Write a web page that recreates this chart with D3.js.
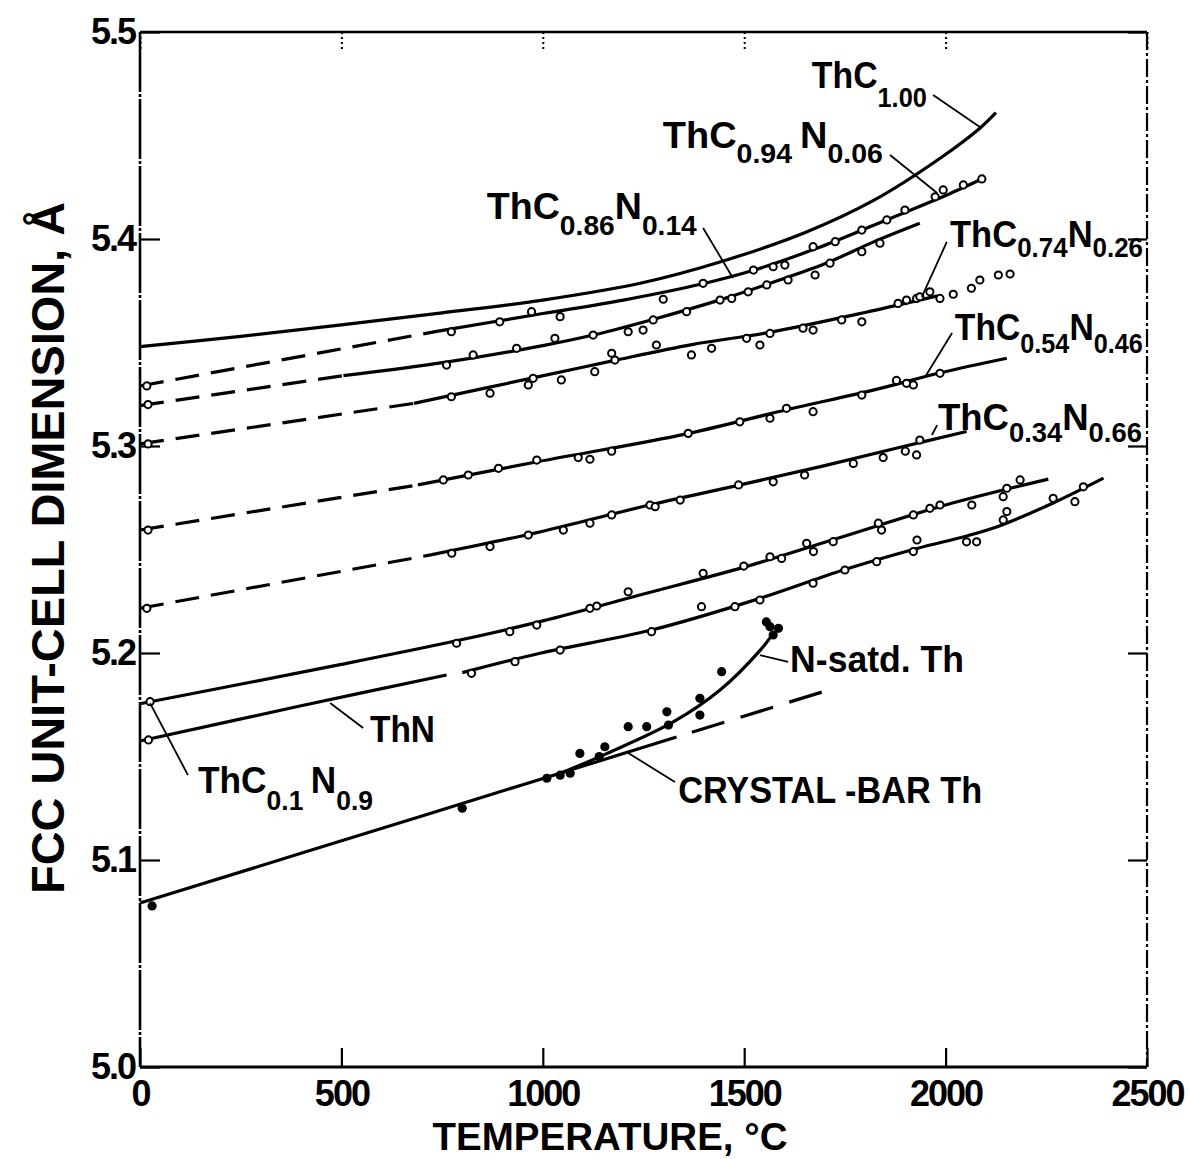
<!DOCTYPE html>
<html><head><meta charset="utf-8">
<script src="https://cdn.jsdelivr.net/npm/d3@7"></script>
<style>
html,body{margin:0;padding:0;background:#fff;}
svg{display:block;background:#fff;}
text{font-family:'Liberation Sans',Arial,sans-serif;font-weight:bold;fill:#000;}
</style></head><body>
<svg id="chart" width="1190" height="1159"></svg>
<script>
// ---------- axis ticks ----------
const X_TICKS = [0, 500, 1000, 1500, 2000, 2500];
const Y_TICKS = [5.0, 5.1, 5.2, 5.3, 5.4, 5.5];
const X_TITLE = "TEMPERATURE, °C";
const Y_TITLE = "FCC UNIT-CELL DIMENSION, Å";

// ---------- fitted curves [T (°C), a (Å)] ----------
const thc100Solid = [[0,5.348],[250,5.353],[500,5.3585],[750,5.3643],[1000,5.3705],[1250,5.379],[1450,5.3895],[1650,5.403],[1820,5.4185],[1990,5.4395],[2085,5.4535],[2125,5.461]];

const thc094Dashed = [[0,5.329],[740,5.3555]];
const thc094Solid = [[740,5.3555],[1000,5.364],[1200,5.3705],[1400,5.3785],[1525,5.385],[1680,5.3955],[1820,5.4065],[1920,5.4145],[2000,5.421],[2090,5.429]];
const thc094Pts = [[17,5.329],[773,5.3552],[893,5.360],[972,5.3649],[1043,5.3625],[1299,5.3709],[1398,5.3786],[1523,5.385],[1572,5.3866],[1601,5.3874],[1671,5.3963],[1726,5.3987],[1792,5.4043],[1854,5.4092],[1899,5.414],[1974,5.4204],[1994,5.4237],[2044,5.4261],[2090,5.429]];

const thc086Dashed = [[0,5.3195],[505,5.334]];
const thc086Solid = [[505,5.334],[760,5.3405],[1000,5.3485],[1125,5.3536],[1280,5.3615],[1450,5.3712],[1570,5.379],[1700,5.388],[1820,5.3985],[1936,5.4076]];
const thc086Pts = [[20,5.320],[761,5.3391],[827,5.344],[935,5.3472],[1030,5.352],[1125,5.3536],[1212,5.3552],[1249,5.356],[1274,5.3609],[1357,5.3649],[1440,5.3705],[1469,5.3713],[1510,5.3745],[1556,5.3778],[1609,5.3802],[1676,5.3826],[1713,5.3883],[1792,5.3939],[1837,5.398]];

const thc074Dashed = [[0,5.301],[680,5.3206]];
const thc074Solid = [[680,5.3206],[990,5.3335],[1170,5.341],[1370,5.349],[1560,5.3548],[1800,5.3645],[1980,5.3725]];
const thc074Pts = [[20,5.301],[773,5.3238],[869,5.3255],[964,5.3295],[976,5.3327],[1046,5.3319],[1129,5.3359],[1171,5.3448],[1179,5.3415],[1282,5.3488],[1369,5.344],[1419,5.3472],[1506,5.352],[1539,5.3488],[1564,5.3544],[1646,5.3569],[1671,5.356],[1742,5.3609],[1792,5.360],[1882,5.3689],[1903,5.3705],[1928,5.3713],[1936,5.3721],[1961,5.3745],[1986,5.3713],[2019,5.3733],[2064,5.3762],[2085,5.3802],[2131,5.3826],[2160,5.3831]];

const thc054Dashed = [[0,5.2594],[690,5.2812]];
const thc054Solid = [[690,5.2812],[990,5.2925],[1360,5.306],[1605,5.3175],[1820,5.327],[1990,5.3355],[2152,5.3424]];
const thc054Pts = [[20,5.2594],[753,5.2836],[815,5.286],[890,5.2892],[985,5.2932],[1088,5.2944],[1117,5.2936],[1171,5.2975],[1361,5.3061],[1489,5.3117],[1564,5.3134],[1605,5.3182],[1671,5.3166],[1792,5.3246],[1878,5.3317],[1903,5.3303],[1920,5.3295],[1986,5.3351]];

const thc034Dashed = [[0,5.2216],[725,5.2475]];
const thc034Solid = [[725,5.2475],[995,5.2586],[1265,5.2715],[1490,5.2812],[1700,5.2905],[1890,5.2995],[2052,5.307]];
const thc034Pts = [[17,5.2216],[774,5.2482],[869,5.2514],[964,5.257],[1051,5.2594],[1117,5.2627],[1171,5.2667],[1266,5.2715],[1279,5.2707],[1341,5.2739],[1486,5.2812],[1572,5.2827],[1650,5.286],[1771,5.2916],[1845,5.2944],[1900,5.2975],[1928,5.2957],[1936,5.3029]];

const thc01Solid = [[0,5.1755],[500,5.1945],[800,5.2065],[1000,5.2155],[1250,5.2285],[1500,5.2415],[1750,5.2565],[2000,5.2715],[2255,5.284]];
const thc01Pts = [[25,5.1765],[786,5.2047],[918,5.2103],[985,5.2135],[1117,5.2216],[1134,5.2227],[1212,5.2296],[1398,5.2385],[1499,5.242],[1564,5.2465],[1593,5.2457],[1655,5.253],[1672,5.249],[1721,5.2538],[1833,5.2627],[1841,5.2594],[1920,5.2667],[1961,5.2699],[1986,5.2715],[2065,5.2715],[2143,5.2755],[2152,5.2796],[2185,5.2836]];

const thnSolidA = [[0,5.1575],[400,5.1745],[761,5.1894]];
const thnSolidB = [[800,5.1905],[993,5.1999],[1270,5.2111],[1539,5.2264],[1746,5.2401],[1929,5.2505],[2052,5.2565],[2135,5.2615],[2267,5.2725],[2392,5.2845]];
const thnPts = [[21,5.158],[823,5.1902],[931,5.1958],[1043,5.2014],[1270,5.2103],[1394,5.2224],[1477,5.2224],[1539,5.2256],[1671,5.2337],[1750,5.2401],[1829,5.2441],[1920,5.249],[1929,5.2546],[2052,5.2537],[2077,5.2537],[2143,5.2643],[2152,5.2683],[2267,5.2747],[2321,5.2731],[2342,5.2803]];

const crystalBarSolid = [[0,5.0792],[700,5.1213],[1332,5.1594]];
const crystalBarDashed = [[1370,5.1617],[1709,5.1821]];
const nSatdSolid = [[1050,5.1424],[1160,5.1515],[1325,5.1668],[1440,5.1821],[1540,5.2014],[1572,5.2095]];
const thoriumPts = [[30,5.0778],[800,5.125],[1010,5.1395],[1043,5.141],[1068,5.1419],[1092,5.1515],[1140,5.150],[1154,5.1547],[1212,5.1644],[1258,5.1644],[1308,5.1716],[1312,5.1652],[1390,5.1781],[1390,5.170],[1444,5.191],[1555,5.215],[1564,5.2127],[1572,5.2087],[1585,5.2119]];

// ---------- annotation text (anchors in data units) ----------
const annotations = [
  {parts:[["ThC",0],["1.00",1]], T:1668, a:5.4729, w:115, dy:19, leader:[[1969,5.4696],[2085,5.4541]]},
  {parts:[["ThC",0],["0.94 ",1],["N",0],["0.06",1]], T:1298, a:5.4440, w:220, dy:15, leader:[[1862,5.4406],[1979,5.4222]]},
  {parts:[["ThC",0],["0.86",1],["N",0],["0.14",1]], T:861, a:5.4097, w:210, dy:16, leader:[[1398,5.4053],[1472,5.3812]]},
  {parts:[["ThC",0],["0.74",1],["N",0],["0.26",1]], T:2011, a:5.3961, w:193, dy:10, leader:[[2003,5.3986],[1941,5.372]]},
  {parts:[["ThC",0],["0.54",1],["N",0],["0.46",1]], T:2023, a:5.3512, w:188, dy:13, leader:[[2016,5.3546],[1949,5.3333]]},
  {parts:[["ThC",0],["0.34",1],["N",0],["0.66",1]], T:1981, a:5.3077, w:204, dy:12, leader:[[1979,5.3101],[1966,5.3053]]},
  {parts:[["ThN",0]], T:571, a:5.157, w:65, dy:0, leader:[[554,5.1638],[472,5.1758]]},
  {parts:[["ThC",0],["0.1 ",1],["N",0],["0.9",1]], T:144, a:5.1324, w:175, dy:17, leader:[[119,5.141],[25,5.1758]]},
  {parts:[["N-satd. Th",0]], T:1614, a:5.1908, w:174, dy:0, leader:[[1609,5.1957],[1539,5.199]]},
  {parts:[["CRYSTAL -BAR Th",0]], T:1336, a:5.1275, w:304, dy:0, leader:[[1328,5.1377],[1212,5.1517]]}
];

// ---------- drawing ----------
const svg = d3.select('#chart');
const x = d3.scaleLinear().domain([0, 2500]).range([140, 1147]);
const y = d3.scaleLinear().domain([5.0, 5.5]).range([1067, 32]);

const solidLines = [thc100Solid, thc094Solid, thc086Solid, thc074Solid, thc054Solid, thc034Solid, thc01Solid, thnSolidA, thnSolidB, crystalBarSolid, nSatdSolid];
const dashedLines = [thc094Dashed, thc086Dashed, thc074Dashed, thc054Dashed, thc034Dashed];
const openPts = [].concat(thc094Pts, thc086Pts, thc074Pts, thc054Pts, thc034Pts, thc01Pts, thnPts);

const line = d3.line().x(d => x(d[0])).y(d => y(d[1])).curve(d3.curveCatmullRom.alpha(0.5));

// frame
const frame = svg.append('g').attr('stroke', '#000').attr('fill', 'none');
frame.append('line').attr('x1', x(0)).attr('x2', x(2500)).attr('y1', y(5.5)).attr('y2', y(5.5)).attr('stroke-width', 2.5);
frame.append('line').attr('x1', x(0)).attr('x2', x(2500)).attr('y1', y(5.0)).attr('y2', y(5.0)).attr('stroke-width', 3);
frame.append('line').attr('x1', x(0)).attr('x2', x(0)).attr('y1', y(5.5)).attr('y2', y(5.0)).attr('stroke-width', 2.6).attr('stroke-dasharray', '60,2,3,2');
frame.append('line').attr('x1', x(2500)).attr('x2', x(2500)).attr('y1', y(5.5)).attr('y2', y(5.0)).attr('stroke-width', 2.2).attr('stroke-dasharray', '18,3,3,3');

function styleAxis(g) {
  g.select('.domain').remove();
  g.selectAll('.tick line').attr('stroke', '#000').attr('stroke-width', 2.2);
  g.selectAll('.tick text').attr('font-size', 36).attr('fill', '#000').style('letter-spacing', '-2px');
}
svg.append('g').attr('transform', `translate(${x(0)},0)`)
  .call(d3.axisLeft(y).tickValues(Y_TICKS).tickFormat(d3.format('.1f')).tickSize(-20).tickPadding(5))
  .call(styleAxis);
svg.append('g').attr('transform', `translate(0,${y(5.0)})`)
  .call(d3.axisBottom(x).tickValues(X_TICKS).tickFormat(d3.format('d')).tickSize(-19).tickPadding(13))
  .call(styleAxis);
svg.append('g').attr('transform', `translate(${x(2500)},0)`)
  .call(d3.axisRight(y).tickValues(Y_TICKS).tickFormat('').tickSize(-19))
  .call(styleAxis);
svg.append('g').attr('transform', `translate(0,${y(5.5)})`)
  .call(d3.axisTop(x).tickValues(X_TICKS).tickFormat('').tickSize(-19))
  .call(styleAxis)
  .call(g => g.selectAll('.tick line').attr('stroke-dasharray', '2,3').attr('stroke-width', 2));

// axis titles
svg.append('text').attr('x', 610).attr('y', 1150).attr('text-anchor', 'middle')
  .attr('font-size', 38).attr('textLength', 355).attr('lengthAdjust', 'spacingAndGlyphs').text(X_TITLE);
svg.append('text').attr('transform', 'translate(64,548) rotate(-90)').attr('text-anchor', 'middle')
  .attr('font-size', 46).attr('textLength', 692).attr('lengthAdjust', 'spacingAndGlyphs').text(Y_TITLE);

// curves
svg.append('g').selectAll('path').data(solidLines).join('path')
  .attr('d', line).attr('fill', 'none').attr('stroke', '#000').attr('stroke-width', 3.2);
svg.append('g').selectAll('path').data(dashedLines).join('path')
  .attr('d', line).attr('fill', 'none').attr('stroke', '#000').attr('stroke-width', 3.2).attr('stroke-dasharray', '24,12');
svg.append('path').datum(crystalBarDashed).attr('d', line).attr('fill', 'none')
  .attr('stroke', '#000').attr('stroke-width', 3.2).attr('stroke-dasharray', '34,17');

// points
svg.append('g').selectAll('circle').data(openPts).join('circle')
  .attr('cx', d => x(d[0])).attr('cy', d => y(d[1])).attr('r', 3.6)
  .attr('fill', '#fff').attr('stroke', '#000').attr('stroke-width', 2);
svg.append('g').selectAll('circle').data(thoriumPts).join('circle')
  .attr('cx', d => x(d[0])).attr('cy', d => y(d[1])).attr('r', 4.6).attr('fill', '#000');

// annotations
const ann = svg.append('g');
annotations.forEach(a => {
  const bx = x(a.T), by = y(a.a);
  const t = ann.append('text').attr('x', bx).attr('y', by)
    .attr('textLength', a.w).attr('lengthAdjust', 'spacingAndGlyphs').style('white-space', 'pre');
  a.parts.forEach(([s, sub]) => {
    t.append('tspan').attr('y', by + (sub ? a.dy : 0)).attr('font-size', sub ? 27 : 36).text(s);
  });
  ann.append('path').attr('d', d3.line()(a.leader.map(p => [x(p[0]), y(p[1])])))
    .attr('fill', 'none').attr('stroke', '#000').attr('stroke-width', 1.8);
});
</script>
</body></html>
